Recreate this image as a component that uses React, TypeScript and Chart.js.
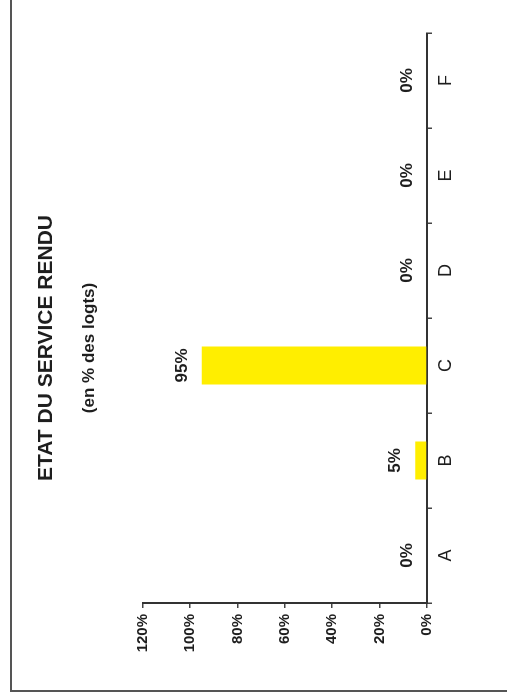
import React, { useEffect, useRef } from "react";
import { Chart, registerables } from "chart.js";

Chart.register(...registerables);

const categories = ["A", "B", "C", "D", "E", "F"];
const values = [0, 5, 95, 0, 0, 0];
const valueLabels = ["0%", "5%", "95%", "0%", "0%", "0%"];
const yTicks = [0, 20, 40, 60, 80, 100, 120];
const titleText = "ETAT DU SERVICE RENDU";
const subtitleText = "(en % des logts)";

const FONT = "'Liberation Sans', Arial, Helvetica, sans-serif";

const valueLabelPlugin = {
  id: "valueLabels",
  afterDatasetsDraw(chart: any) {
    const meta = chart.getDatasetMeta(0);
    const ctx = chart.ctx;
    ctx.save();
    ctx.font = `bold 17px ${FONT}`;
    ctx.fillStyle = "#1e1e1e";
    ctx.textAlign = "center";
    ctx.textBaseline = "middle";
    meta.data.forEach((bar: any, i: number) => {
      ctx.fillText(valueLabels[i], bar.x, bar.y - 20);
    });
    ctx.restore();
  },
};

export default function App() {
  const ref = useRef<HTMLCanvasElement | null>(null);

  useEffect(() => {
    if (!ref.current) return;
    const chart = new Chart(ref.current, {
      type: "bar",
      data: {
        labels: categories,
        datasets: [
          {
            data: values,
            backgroundColor: "#FFEE00",
            borderWidth: 0,
            categoryPercentage: 0.8,
            barPercentage: 0.5,
          },
        ],
      },
      plugins: [valueLabelPlugin],
      options: {
        animation: false,
        responsive: false,
        devicePixelRatio: 1,
        layout: { padding: { left: 37, right: 55, top: 0, bottom: 40 } },
        plugins: {
          legend: { display: false },
          tooltip: { enabled: false },
          title: {
            display: true,
            text: titleText,
            color: "#1e1e1e",
            font: { family: FONT, size: 21, weight: "bold", lineHeight: 1.2 },
            padding: { top: 34, bottom: 0 },
          },
          subtitle: {
            display: true,
            text: subtitleText,
            color: "#1e1e1e",
            font: { family: FONT, size: 17, weight: "bold", lineHeight: 1.2 },
            padding: { top: 20, bottom: 43 },
          },
        },
        scales: {
          x: {
            afterFit: (s: any) => {
              s.height = 40;
            },
            grid: {
              offset: true,
              drawOnChartArea: false,
              drawTicks: true,
              tickLength: 5,
              color: "#444",
              lineWidth: 1.5,
            },
            border: { display: true, color: "#333", width: 2 },
            ticks: {
              color: "#1e1e1e",
              font: { family: FONT, size: 18 },
              padding: 3,
            },
          },
          y: {
            min: 0,
            max: 120,
            afterFit: (s: any) => {
              s.width = 60;
            },
            afterBuildTicks: (s: any) => {
              s.ticks = yTicks.map((v) => ({ value: v }));
            },
            grid: {
              drawOnChartArea: false,
              drawTicks: true,
              tickLength: 5,
              color: "#444",
              lineWidth: 1.5,
            },
            border: { display: true, color: "#333", width: 2 },
            ticks: {
              color: "#1e1e1e",
              font: { family: FONT, size: 15, weight: "bold" },
              padding: 6,
              callback: (v: any) => `${v}%`,
            },
          },
        },
      },
    });
    return () => chart.destroy();
  }, []);

  return (
    <div
      style={{
        position: "fixed",
        left: 0,
        top: 0,
        width: 722,
        height: 507,
        transformOrigin: "0 0",
        transform: "translateY(700px) rotate(-90deg)",
        background: "#fff",
      }}
    >
      <div
        style={{
          position: "absolute",
          left: 8,
          top: 10,
          width: 800,
          height: 600,
          border: "2px solid #555",
          boxSizing: "border-box",
        }}
      />
      <canvas
        ref={ref}
        width={722}
        height={507}
        style={{ position: "absolute", left: 0, top: 0 }}
      />
    </div>
  );
}
